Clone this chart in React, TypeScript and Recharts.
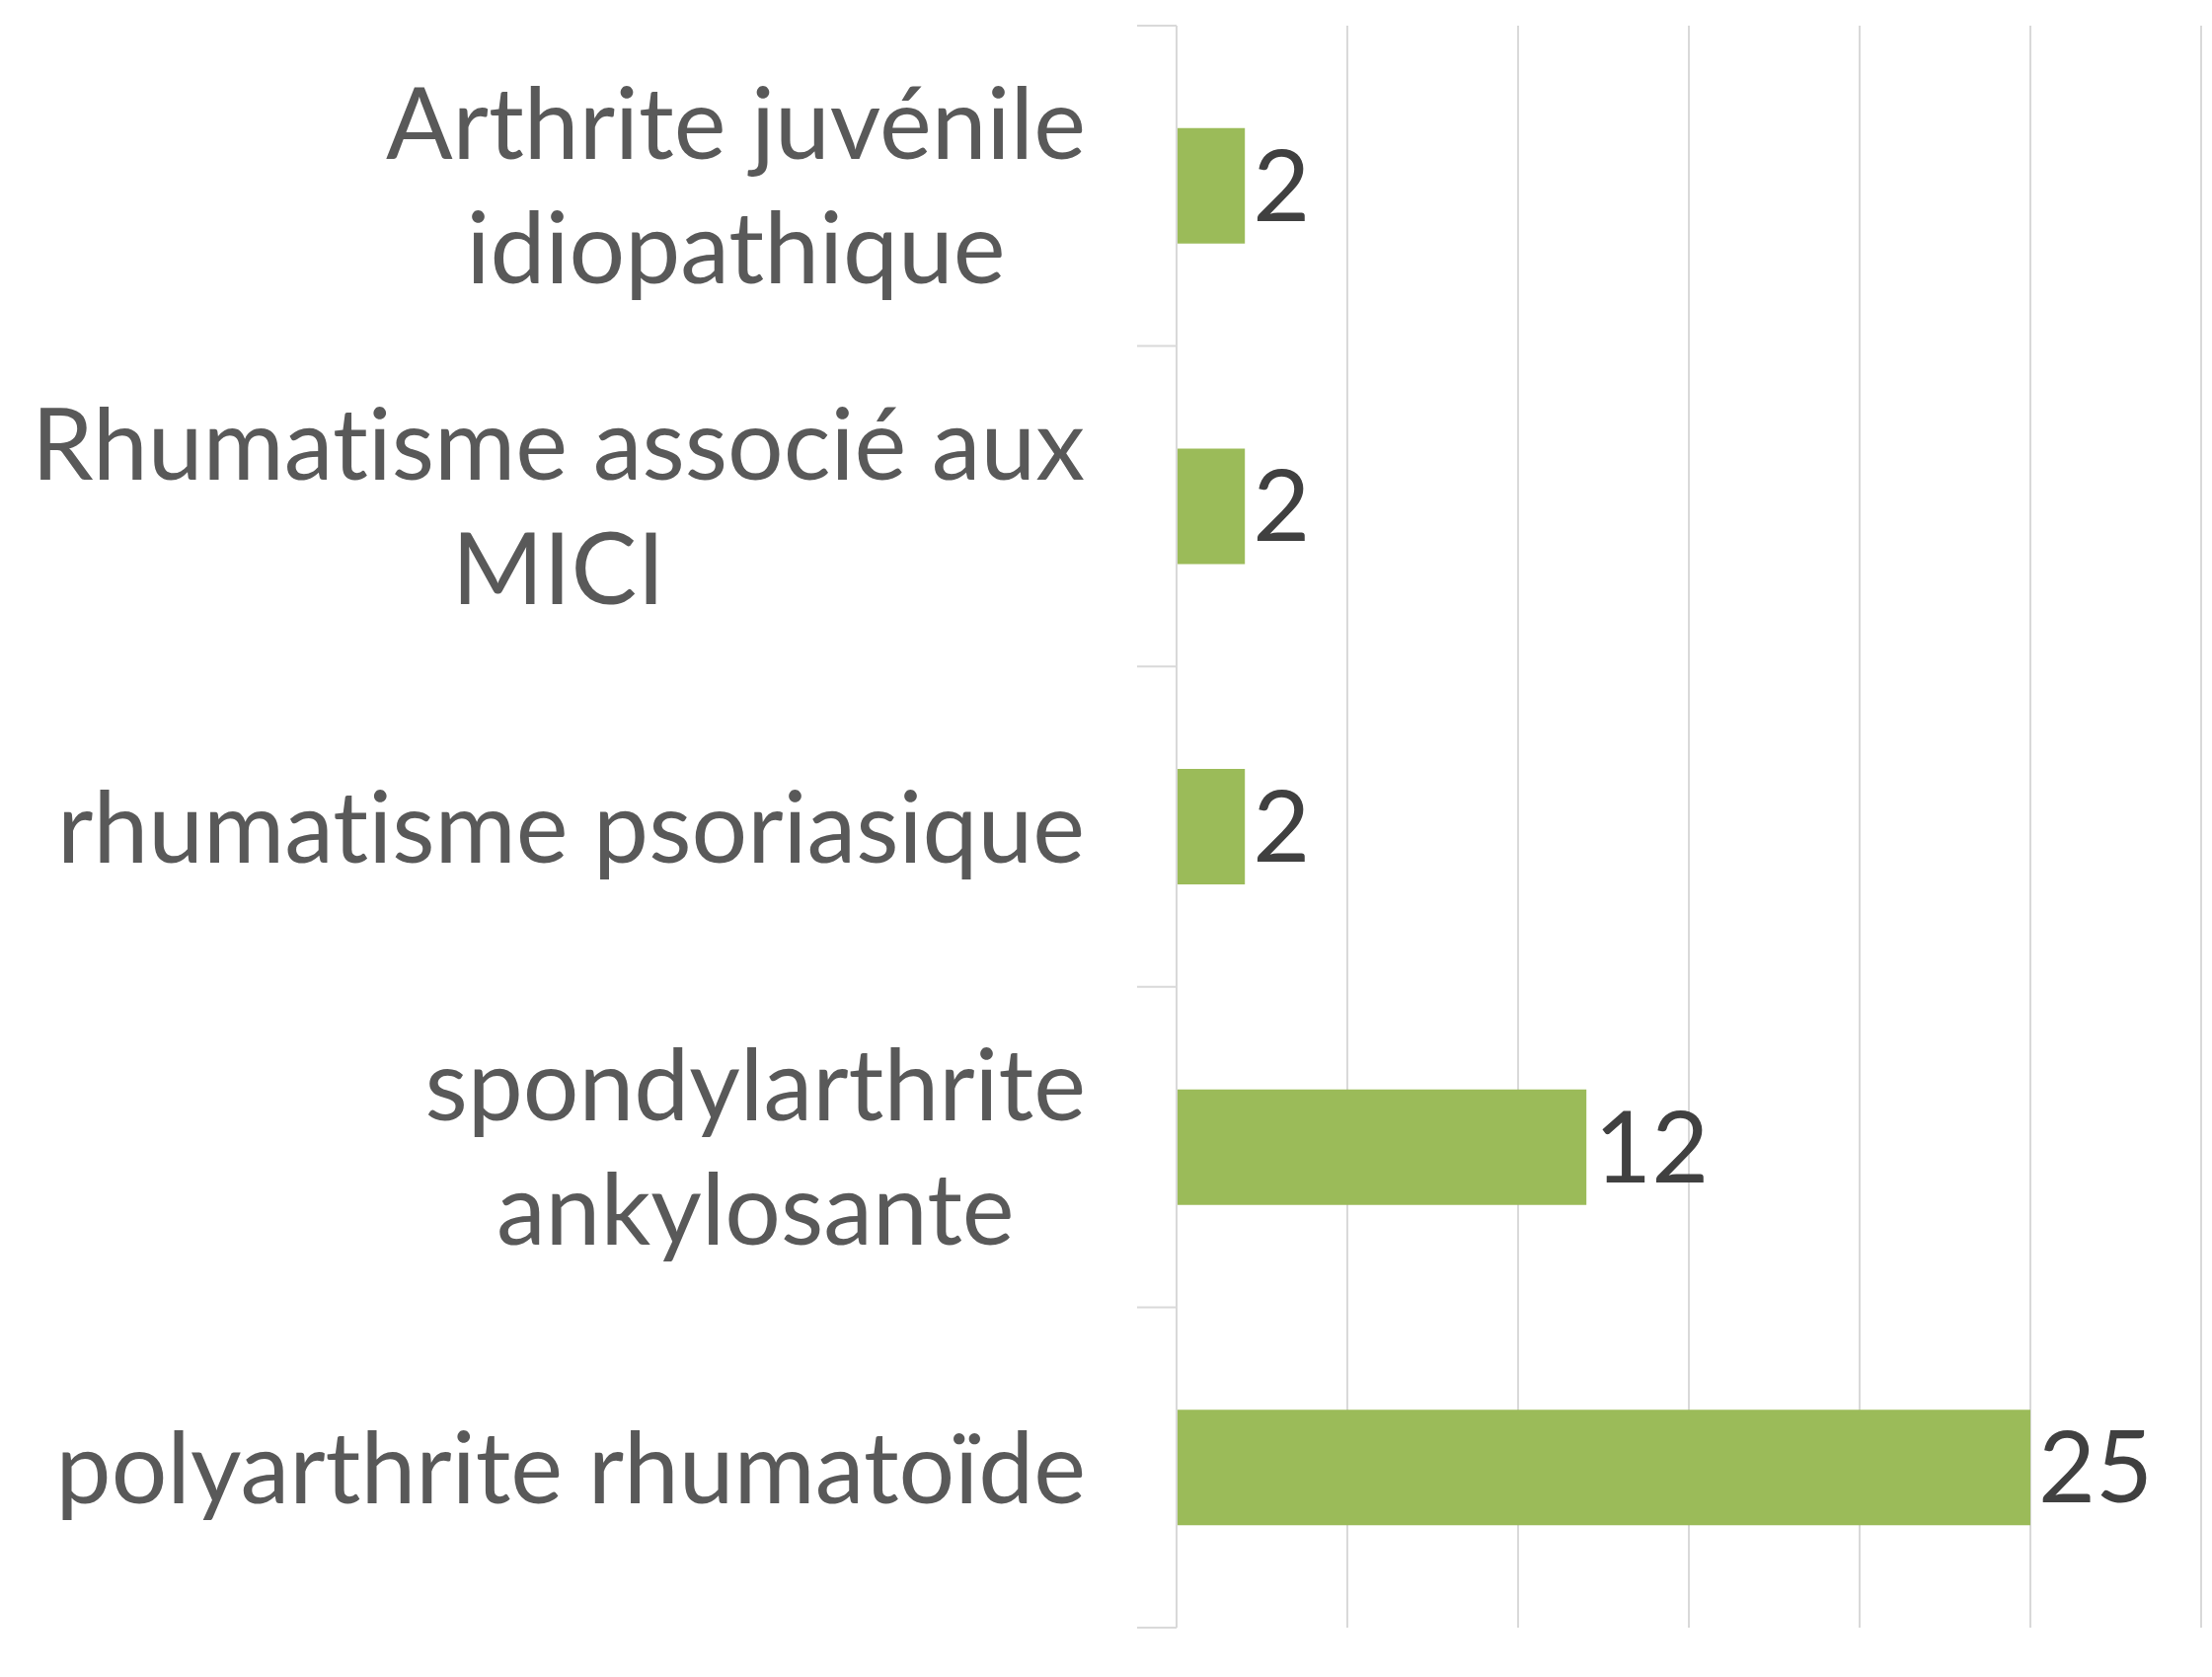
import React from 'react';
import { Bar, BarChart, CartesianGrid, LabelList, XAxis, YAxis } from 'recharts';

const categories = [
  'Arthrite juvénile\nidiopathique',
  'Rhumatisme associé aux\nMICI',
  'rhumatisme psoriasique',
  'spondylarthrite\nankylosante',
  'polyarthrite rhumatoïde',
];
const values = [2, 2, 2, 12, 25];
const xTicks = [0, 5, 10, 15, 20, 25, 30];

const W = 2241;
const H = 1699;
const M = { top: 26, right: 11, bottom: 50, left: 0 };
const AXIS_W = 1192;
const FONT = 'Lato, "Open Sans", sans-serif';
const FS = 100;
const LINE_H = 126;
const GRID = '#d9d9d9';
const NO_LIGA = { fontVariantLigatures: 'none' as const, fontFeatureSettings: '"liga" 0' };

const chartData = categories.map((name, i) => ({ name, value: values[i] }));
const bandSize = (H - M.top - M.bottom) / categories.length;

let ctx: CanvasRenderingContext2D | null = null;
function measure(s: string) {
  if (!ctx) ctx = document.createElement('canvas').getContext('2d');
  if (!ctx) return s.length * FS * 0.5;
  ctx.font = `${FS}px ${FONT}`;
  return ctx.measureText(s).width;
}

function CategoryTick(props: any) {
  const { y, payload, index } = props;
  const lines: string[] = String(payload.value).split('\n');
  const maxW = Math.max(...lines.map(measure));
  const right = AXIS_W - 92;
  const cx = right - maxW / 2;
  const top = y - bandSize / 2;
  return (
    <g>
      <line x1={AXIS_W - 40} x2={AXIS_W} y1={top} y2={top} stroke={GRID} strokeWidth={2} />
      {index === categories.length - 1 && (
        <line x1={AXIS_W - 40} x2={AXIS_W} y1={y + bandSize / 2} y2={y + bandSize / 2} stroke={GRID} strokeWidth={2} />
      )}
      {lines.map((l, i) => (
        <text
          key={i}
          x={cx}
          y={y + 36 + (i - (lines.length - 1) / 2) * LINE_H}
          textAnchor="middle"
          fill="#595959"
          fontSize={FS}
          fontFamily={FONT}
          style={NO_LIGA}
        >
          {l}
        </text>
      ))}
    </g>
  );
}

export default function App() {
  return (
    <div style={{ position: 'absolute', left: 0, top: 0, background: '#fff' }}>
      <BarChart width={W} height={H} data={chartData} layout="vertical" margin={M} barCategoryGap="32%">
        <CartesianGrid horizontal={false} stroke={GRID} strokeWidth={2} />
        <XAxis type="number" domain={[0, 30]} ticks={xTicks} hide />
        <YAxis
          type="category"
          dataKey="name"
          width={AXIS_W}
          axisLine={{ stroke: GRID, strokeWidth: 2 }}
          tickLine={false}
          interval={0}
          tick={<CategoryTick />}
        />
        <Bar dataKey="value" fill="#9bbb59" isAnimationActive={false}>
          <LabelList
            dataKey="value"
            position="right"
            offset={8}
            fill="#404040"
            fontSize={FS}
            fontFamily={FONT}
          />
        </Bar>
      </BarChart>
    </div>
  );
}
